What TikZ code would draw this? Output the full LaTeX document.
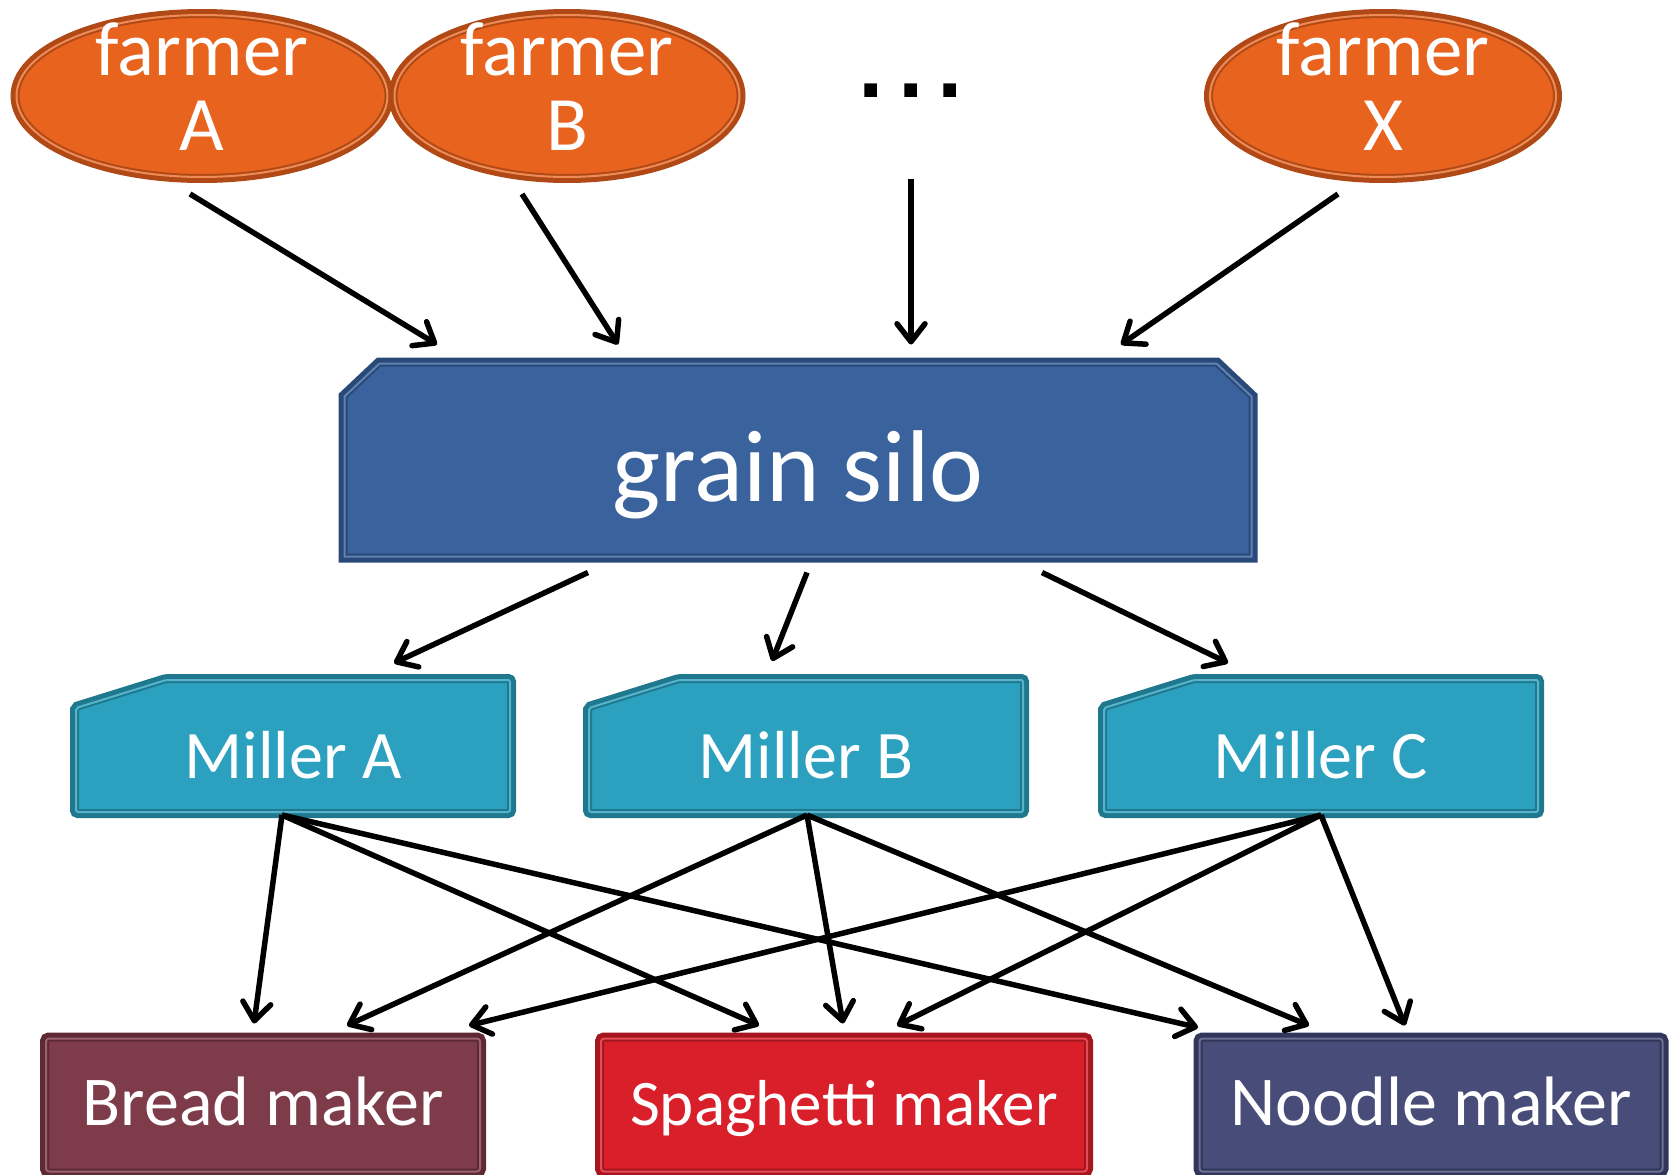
\documentclass[tikz,border=0pt]{standalone}
\usepackage{fontspec}
\setmainfont{Carlito}
\newfontfamily\dotsfont{DejaVu Sans}
\usetikzlibrary{shapes.geometric,arrows.meta,backgrounds}

\definecolor{farmfill}{HTML}{E8641E}
\definecolor{farmline}{HTML}{B04916}
\definecolor{silofill}{HTML}{3A629C}
\definecolor{siloline}{HTML}{294A78}
\definecolor{millfill}{HTML}{2CA1BF}
\definecolor{millline}{HTML}{1F788E}
\definecolor{breadfill}{HTML}{7E3B4A}
\definecolor{breadline}{HTML}{5E2935}
\definecolor{spagfill}{HTML}{D91F2A}
\definecolor{spagline}{HTML}{A5161E}
\definecolor{noodfill}{HTML}{474C78}
\definecolor{noodline}{HTML}{32365A}

\tikzset{
  rim/.style={line width=2pt, double distance=2pt, draw=#1, preaction={draw=#1, line width=12pt}},
  farmer/.style={ellipse, rim=farmline, fill=farmfill, double=farmfill!75!white,
    minimum width=371pt, minimum height=162pt, inner sep=0pt, outer sep=0pt},
  farmtext/.style={text=white, align=center, font=\fontsize{77}{75}\selectfont, yshift=9pt},
  silobox/.style={minimum width=907pt, minimum height=193pt, inner sep=0pt, outer sep=0pt,
    text=white, text height=100pt, text depth=18pt, font=\fontsize{102}{102}\selectfont},
  siloshape/.style={rim=siloline, fill=silofill, double=silofill!80!white},
  millbox/.style={minimum width=434pt, minimum height=132pt, inner sep=0pt, outer sep=0pt,
    text=white, text height=74pt, text depth=10pt, font=\fontsize{68}{68}\selectfont},
  millshape/.style={rim=millline, fill=millfill, double=millfill!80!white, rounded corners=2pt},
  maker/.style={rectangle, rounded corners=3pt, minimum height=133pt, inner sep=0pt,
    outer sep=0pt, text=white, text height=60pt, text depth=20pt, font=\fontsize{70}{70}\selectfont},
  arr/.style={line width=5.5pt, -{Straight Barb[length=18pt,width=28pt,round]}}
}

\begin{document}
\begin{tikzpicture}[x=1pt,y=-1pt]
\useasboundingbox (0,0) rectangle (1671,1175);
\clip (0,0) rectangle (1671,1175);

% farmers
\node[farmer, label={[farmtext]center:farmer\\A}] (farmA) at (202,96) {};
\node[farmer, minimum width=345pt, label={[farmtext]center:farmer\\B}] (farmB) at (567,96) {};
\node[farmer, minimum width=346pt, label={[farmtext]center:farmer\\X}] (farmX) at (1383,96) {};
\node[font=\fontsize{72}{72}\dotsfont\bfseries, inner sep=0pt] (dots) at (911,91) {.\kern12pt.\kern12pt.};

% silo and millers
\node[silobox] (silo) at (798,460) {grain silo};
\node[millbox] (millA) at (293,746) {Miller A};
\node[millbox] (millB) at (806,746) {Miller B};
\node[millbox] (millC) at (1321,746) {Miller C};

% makers
\node[maker, minimum width=434pt, rim=breadline, fill=breadfill, double=breadfill!80!white] (bread) at (263,1105) {Bread maker};
\node[maker, minimum width=486pt, rim=spagline, fill=spagfill, double=spagfill!80!white, font=\fontsize{65}{65}\selectfont] (spag) at (844,1105) {Spaghetti maker};
\node[maker, minimum width=463pt, rim=noodline, fill=noodfill, double=noodfill!80!white] (noodle) at (1431,1105) {Noodle maker};

\begin{scope}[on background layer]
\path[siloshape] (silo.south west) -- (silo.south east) -- ([yshift=-33pt]silo.north east)
  -- ([xshift=-35pt]silo.north east) -- ([xshift=35pt]silo.north west)
  -- ([yshift=-33pt]silo.north west) -- cycle;
\foreach \m in {millA,millB,millC}
  \path[millshape] (\m.south west) -- (\m.south east) -- (\m.north east)
    -- ([xshift=90pt]\m.north west) -- ([yshift=-28pt]\m.north west) -- cycle;
\end{scope}

% into the silo
\draw[arr] ([shift={(-12pt,-17pt)}]farmA.south) -- ([shift={(-361pt,19pt)}]silo.north);
\draw[arr] ([shift={(-45pt,-17pt)}]farmB.south) -- ([shift={(-180pt,19pt)}]silo.north);
\draw[arr] ([yshift=-88pt]dots.center) -- ([shift={(113pt,19pt)}]silo.north);
\draw[arr] ([shift={(-45pt,-17pt)}]farmX.south) -- ([shift={(323pt,19pt)}]silo.north);

% silo to millers
\draw[arr] ([shift={(-210pt,-16pt)}]silo.south) -- ([shift={(101pt,17pt)}]millA.north);
\draw[arr] ([shift={(9pt,-16pt)}]silo.south) -- ([shift={(-34pt,19pt)}]millB.north);
\draw[arr] ([shift={(244pt,-16pt)}]silo.south) -- ([shift={(-93pt,17pt)}]millC.north);

% millers to makers
\draw[arr] ([shift={(-11pt,-3pt)}]millA.south) -- ([shift={(-9pt,15pt)}]bread.north);
\draw[arr] ([shift={(-11pt,-3pt)}]millA.south) -- ([shift={(-85pt,13pt)}]spag.north);
\draw[arr] ([shift={(-11pt,-3pt)}]millA.south) -- ([shift={(-233pt,11pt)}]noodle.north);
\draw[arr] ([shift={(1pt,-3pt)}]millB.south) -- ([shift={(84pt,13pt)}]bread.north);
\draw[arr] ([shift={(1pt,-3pt)}]millB.south) -- ([shift={(-1pt,15pt)}]spag.north);
\draw[arr] ([shift={(1pt,-3pt)}]millB.south) -- ([shift={(-122pt,13pt)}]noodle.north);
\draw[arr] ([yshift=-3pt]millC.south) -- ([shift={(206pt,13pt)}]bread.north);
\draw[arr] ([yshift=-3pt]millC.south) -- ([shift={(53pt,13pt)}]spag.north);
\draw[arr] ([yshift=-3pt]millC.south) -- ([shift={(-26pt,13pt)}]noodle.north);
\end{tikzpicture}
\end{document}
